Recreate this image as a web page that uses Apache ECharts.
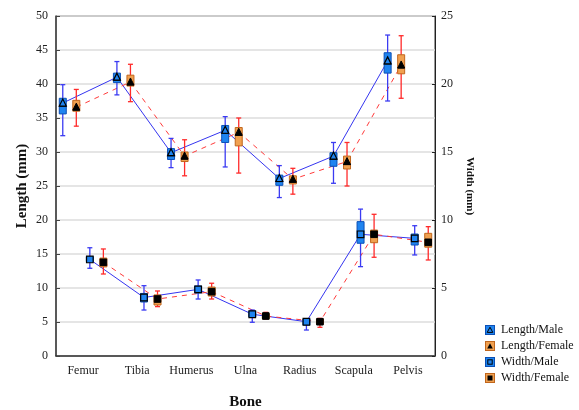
<!DOCTYPE html>
<html>
<head>
<meta charset="utf-8">
<script src="https://cdn.jsdelivr.net/npm/echarts@6/dist/echarts.min.js"></script>
<style>
  html, body { margin: 0; padding: 0; background: #fff; }
  #chart { width: 579px; height: 410px; }
</style>
</head>
<body>
<div id="chart"></div>
<script>
// ---------- data ----------
const bones = ['Femur', 'Tibia', 'Humerus', 'Ulna', 'Radius', 'Scapula', 'Pelvis'];
const lengthTicks = [0, 5, 10, 15, 20, 25, 30, 35, 40, 45, 50];
const widthTicks = [0, 5, 10, 15, 20, 25];

// Length / Male (mm)
const lengthMaleMean      = [37.2, 41.0, 29.9, 33.2, 26.1, 29.4, 43.4];
const lengthMaleBoxLow    = [35.6, 40.2, 28.9, 31.4, 25.1, 27.9, 41.6];
const lengthMaleBoxHigh   = [37.9, 41.6, 30.5, 33.9, 26.6, 29.9, 44.6];
const lengthMaleWhiskLow  = [32.4, 38.4, 27.7, 27.8, 23.3, 25.4, 37.5];
const lengthMaleWhiskHigh = [39.9, 43.3, 32.0, 35.2, 28.0, 31.4, 47.2];

// Length / Female (mm)
const lengthFemaleMean      = [36.6, 40.3, 29.4, 32.9, 26.0, 28.6, 42.8];
const lengthFemaleBoxLow    = [36.0, 39.7, 28.6, 30.9, 25.3, 27.5, 41.5];
const lengthFemaleBoxHigh   = [37.6, 41.3, 30.0, 33.6, 26.5, 29.4, 44.3];
const lengthFemaleWhiskLow  = [33.8, 37.4, 26.5, 26.9, 23.8, 25.0, 37.9];
const lengthFemaleWhiskHigh = [39.2, 42.9, 31.8, 35.0, 27.6, 31.4, 47.1];

// Width / Male (mm)
const widthMaleMean      = [7.10, 4.30, 4.90, 3.07, 2.52, 8.95, 8.65];
const widthMaleBoxLow    = [6.95, 3.97, 4.63, 2.87, 2.28, 8.29, 8.16];
const widthMaleBoxHigh   = [7.30, 4.60, 5.15, 3.30, 2.72, 9.88, 8.97];
const widthMaleWhiskLow  = [6.45, 3.38, 4.19, 2.48, 1.91, 6.57, 7.43];
const widthMaleWhiskHigh = [7.96, 5.17, 5.59, 3.38, 2.74, 10.80, 9.58];

// Width / Female (mm)
const widthFemaleMean      = [6.89, 4.19, 4.73, 2.94, 2.52, 8.95, 8.36];
const widthFemaleBoxLow    = [6.55, 3.75, 4.41, 2.75, 2.35, 8.33, 8.00];
const widthFemaleBoxHigh   = [7.20, 4.49, 5.07, 3.10, 2.72, 9.26, 9.02];
const widthFemaleWhiskLow  = [6.03, 3.63, 4.19, 2.72, 2.11, 7.26, 7.06];
const widthFemaleWhiskHigh = [7.87, 4.78, 5.35, 3.21, 2.77, 10.42, 9.51];

// ---------- styling ----------
const SERIF = "'Liberation Serif', 'Times New Roman', serif";
const MALE_BOX = '#1f84f0', MALE_BOX_BORDER = '#0b4fb5', MALE_WHISK = '#3b3bf2', MALE_LINE = '#3535f0';
const FEM_BOX = '#f0a050', FEM_BOX_BORDER = '#c0661c', FEM_WHISK = '#ff2a2a', FEM_LINE = '#ff3a3a';
const OFFSETS = [-0.375, -0.125, 0.125, 0.375];

function svgIcon(fill, stroke, shape) {
  let mark;
  if (shape === 'triOpen') mark = "<path d='M5 2.2 L7.8 7.4 L2.2 7.4 Z' fill='none' stroke='#000' stroke-width='1'/>";
  else if (shape === 'triFill') mark = "<path d='M5 2.2 L7.8 7.4 L2.2 7.4 Z' fill='#000'/>";
  else if (shape === 'sqOpen') mark = "<rect x='2.8' y='2.8' width='4.4' height='4.4' fill='none' stroke='#000' stroke-width='1'/>";
  else mark = "<rect x='2.5' y='2.5' width='5' height='5' fill='#000'/>";
  const svg = "<svg xmlns='http://www.w3.org/2000/svg' width='10' height='10' viewBox='0 0 10 10'>" +
    "<rect x='0.5' y='0.5' width='9' height='9' fill='" + fill + "' stroke='" + stroke + "' stroke-width='1'/>" + mark + "</svg>";
  return 'image://data:image/svg+xml;charset=utf-8,' + encodeURIComponent(svg);
}

function makeRender(boxFill, boxStroke, whiskColor, marker) {
  return function (params, api) {
    const x = api.value(0);
    const pWL = api.coord([x, api.value(1)]);
    const pBL = api.coord([x, api.value(2)]);
    const pM  = api.coord([x, api.value(3)]);
    const pBH = api.coord([x, api.value(4)]);
    const pWH = api.coord([x, api.value(5)]);
    const cx = pM[0], bw = 7, cap = 5;
    const children = [
      { type: 'line', shape: { x1: cx, y1: pWH[1], x2: cx, y2: pWL[1] }, style: { stroke: whiskColor, lineWidth: 1.3 } },
      { type: 'line', shape: { x1: cx - cap / 2, y1: pWH[1], x2: cx + cap / 2, y2: pWH[1] }, style: { stroke: whiskColor, lineWidth: 1.3 } },
      { type: 'line', shape: { x1: cx - cap / 2, y1: pWL[1], x2: cx + cap / 2, y2: pWL[1] }, style: { stroke: whiskColor, lineWidth: 1.3 } },
      { type: 'rect', shape: { x: cx - bw / 2, y: pBH[1], width: bw, height: Math.max(pBL[1] - pBH[1], 2) },
        style: { fill: boxFill, stroke: boxStroke, lineWidth: 1 } }
    ];
    const cy = pM[1];
    if (marker === 'triOpen' || marker === 'triFill') {
      children.push({ type: 'line', shape: { x1: cx - bw / 2, y1: cy + 3, x2: cx + bw / 2, y2: cy + 3 }, style: { stroke: '#000', lineWidth: 1.2 } });
      children.push({ type: 'polygon', shape: { points: [[cx, cy - 4], [cx + 3.5, cy + 3], [cx - 3.5, cy + 3]] },
        style: marker === 'triOpen' ? { fill: boxFill, stroke: '#000', lineWidth: 1.2 } : { fill: '#000', stroke: '#000', lineWidth: 1 } });
    } else {
      children.push({ type: 'rect', shape: { x: cx - 3.3, y: cy - 3.3, width: 6.6, height: 6.6 },
        style: marker === 'sqOpen' ? { fill: boxFill, stroke: '#000', lineWidth: 1.2 } : { fill: '#000', stroke: '#000', lineWidth: 1 } });
    }
    return { type: 'group', children: children };
  };
}

const groups = [
  { name: 'Length/Male', y: 0, off: OFFSETS[0], m: lengthMaleMean, bl: lengthMaleBoxLow, bh: lengthMaleBoxHigh, wl: lengthMaleWhiskLow, wh: lengthMaleWhiskHigh,
    fill: MALE_BOX, stroke: MALE_BOX_BORDER, whisk: MALE_WHISK, line: MALE_LINE, dashed: false, marker: 'triOpen' },
  { name: 'Length/Female', y: 0, off: OFFSETS[1], m: lengthFemaleMean, bl: lengthFemaleBoxLow, bh: lengthFemaleBoxHigh, wl: lengthFemaleWhiskLow, wh: lengthFemaleWhiskHigh,
    fill: FEM_BOX, stroke: FEM_BOX_BORDER, whisk: FEM_WHISK, line: FEM_LINE, dashed: true, marker: 'triFill' },
  { name: 'Width/Male', y: 1, off: OFFSETS[2], m: widthMaleMean, bl: widthMaleBoxLow, bh: widthMaleBoxHigh, wl: widthMaleWhiskLow, wh: widthMaleWhiskHigh,
    fill: MALE_BOX, stroke: MALE_BOX_BORDER, whisk: MALE_WHISK, line: MALE_LINE, dashed: false, marker: 'sqOpen' },
  { name: 'Width/Female', y: 1, off: OFFSETS[3], m: widthFemaleMean, bl: widthFemaleBoxLow, bh: widthFemaleBoxHigh, wl: widthFemaleWhiskLow, wh: widthFemaleWhiskHigh,
    fill: FEM_BOX, stroke: FEM_BOX_BORDER, whisk: FEM_WHISK, line: FEM_LINE, dashed: true, marker: 'sqFill' }
];

const series = [];
groups.forEach(function (g) {
  series.push({
    name: g.name, type: 'line', xAxisIndex: 1, yAxisIndex: g.y, z: 2,
    data: bones.map(function (_, i) { return [i + g.off, g.m[i]]; }),
    symbol: 'none', silent: true, animation: false,
    lineStyle: { color: g.line, width: 1, type: g.dashed ? [5, 5] : 'solid' },
    itemStyle: { color: g.line }
  });
});
groups.forEach(function (g) {
  series.push({
    name: g.name, type: 'custom', xAxisIndex: 1, yAxisIndex: g.y, z: 3,
    data: bones.map(function (_, i) { return [i + g.off, g.wl[i], g.bl[i], g.m[i], g.bh[i], g.wh[i]]; }),
    renderItem: makeRender(g.fill, g.stroke, g.whisk, g.marker),
    animation: false, silent: true,
    itemStyle: { color: g.fill }
  });
});

const chart = echarts.init(document.getElementById('chart'), null, { renderer: 'canvas' });
chart.setOption({
  animation: false,
  backgroundColor: '#ffffff',
  grid: { left: 56, right: 144, top: 16, bottom: 54, containLabel: false, outerBoundsMode: 'none',
          show: true, borderColor: '#333', borderWidth: 1, backgroundColor: 'transparent' },
  legend: {
    orient: 'vertical', left: 485, top: 324, itemWidth: 10, itemHeight: 10, itemGap: 4, padding: 0,
    textStyle: { fontFamily: SERIF, fontSize: 12, color: '#111', padding: [0, 0, 0, 1] },
    selectedMode: false,
    data: [
      { name: 'Length/Male', icon: svgIcon(MALE_BOX, MALE_BOX_BORDER, 'triOpen') },
      { name: 'Length/Female', icon: svgIcon(FEM_BOX, FEM_BOX_BORDER, 'triFill') },
      { name: 'Width/Male', icon: svgIcon(MALE_BOX, MALE_BOX_BORDER, 'sqOpen') },
      { name: 'Width/Female', icon: svgIcon(FEM_BOX, FEM_BOX_BORDER, 'sqFill') }
    ]
  },
  xAxis: [
    {
      type: 'category', data: bones, boundaryGap: true, position: 'bottom',
      name: 'Bone', nameLocation: 'middle', nameGap: 39,
      nameTextStyle: { fontFamily: SERIF, fontSize: 15, fontWeight: 'bold', color: '#111' },
      axisLine: { onZero: false, lineStyle: { color: '#333', width: 1.5 } },
      axisTick: { inside: true, alignWithLabel: true, interval: 0, length: 4, lineStyle: { color: '#333' } },
      axisLabel: { fontFamily: SERIF, fontSize: 12, color: '#222', margin: 9, interval: 0 },
      splitLine: { show: false }
    },
    { type: 'value', min: -0.5, max: 6.5, show: false, splitLine: { show: false }, axisLine: { onZero: false } }
  ],
  yAxis: [
    {
      type: 'value', position: 'left', min: lengthTicks[0], max: lengthTicks[lengthTicks.length - 1], interval: 5,
      name: 'Length (mm)', nameLocation: 'middle', nameGap: 26, nameMoveOverlap: false,
      nameTextStyle: { fontFamily: SERIF, fontSize: 15, fontWeight: 'bold', color: '#111' },
      axisLine: { show: true, onZero: false, lineStyle: { color: '#444', width: 1.5 } },
      axisTick: { show: true, inside: true, length: 4, lineStyle: { color: '#444' } },
      axisLabel: { fontFamily: SERIF, fontSize: 12, color: '#222', margin: 8 },
      splitLine: { show: true, lineStyle: { color: '#dcdcdc', width: 1.6 } }
    },
    {
      type: 'value', position: 'right', min: widthTicks[0], max: widthTicks[widthTicks.length - 1], interval: 5,
      name: 'Width (mm)', nameLocation: 'middle', nameGap: 28, nameRotate: -90,
      nameTextStyle: { fontFamily: SERIF, fontSize: 11, fontWeight: 'bold', color: '#111' },
      axisLine: { show: true, onZero: false, lineStyle: { color: '#222', width: 1 } },
      axisTick: { show: true, inside: true, length: 3, lineStyle: { color: '#222' } },
      axisLabel: { fontFamily: SERIF, fontSize: 12, color: '#222', margin: 6 },
      splitLine: { show: false }
    }
  ],
  series: series
});
</script>
</body>
</html>
